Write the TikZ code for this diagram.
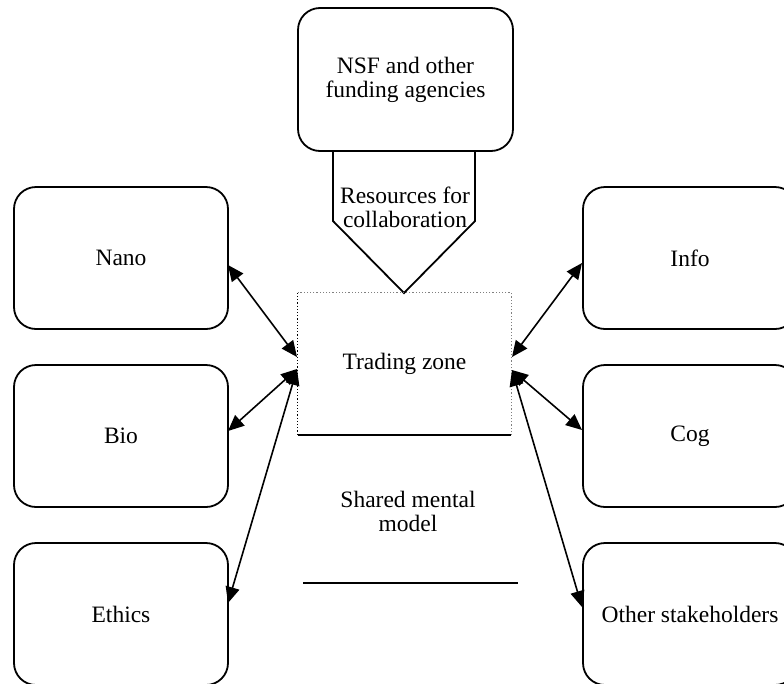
\documentclass[tikz,border=0pt]{standalone}
\usepackage{fontspec}
\setmainfont{Liberation Serif}
\usetikzlibrary{arrows.meta}
\begin{document}
\begin{tikzpicture}[x=1pt,y=-1pt,
  every node/.style={font=\fontsize{23.5}{24}\selectfont, align=center},
  rbox/.style={draw, line width=1.8pt, rounded corners=22pt, minimum width=214pt, minimum height=142pt, inner sep=0pt},
  link/.style={line width=1.6pt, {Triangle[length=16pt,width=14pt]}-{Triangle[length=16pt,width=14pt]}},
  plain/.style={inner sep=0pt}]
\useasboundingbox (0,0) rectangle (784,683);
\clip (0,0) rectangle (784,683);
% boxes
\node[rbox] (nano) at (121,258) {Nano};
\node[rbox] (bio) at (121,436) {Bio};
\node[rbox] (ethics) at (121,614) {Ethics};
\node[rbox] (info) at (690,258) {Info};
\node[rbox] (cog) at (690,436) {Cog};
\node[rbox] (other) at (690,614) {Other stakeholders};
\node[rbox, minimum width=215pt, minimum height=143pt] (nsf) at (405.5,79.5) {NSF and other\\funding agencies};
% resources arrow
\draw[line width=1.8pt, line join=miter] (333,151) -- (475,151) -- (475,221) -- (404,293) -- (333,221) -- cycle;
\node[plain] (res) at (405,207) {Resources for\\collaboration};
% trading zone
\node[plain, minimum width=213pt, minimum height=142pt] (tz) at (404.5,364) {Trading zone};
\draw[gray, dotted, line width=1.2pt] (tz.south east) -- (tz.north east) -- (tz.north west);
\draw[black, dotted, line width=1.2pt] (tz.north west) -- (tz.south west);
\draw[line width=1.8pt] (tz.south west) -- (tz.south east);
% shared mental model
\node[plain] (smm) at (408,511) {Shared mental\\model};
\coordinate (smmL) at (303,583);
\coordinate (smmR) at (518,583);
\draw[line width=1.8pt] (smmL) -- (smmR);
% connector endpoints
\coordinate (tzL1) at (297,357);
\coordinate (tzL2) at (297,369);
\coordinate (tzR1) at (512,357);
\coordinate (tzR2) at (512,370);
\coordinate (nanoE) at (228,265);
\coordinate (bioE) at (228,431);
\coordinate (ethicsE) at (228,603);
\coordinate (infoW) at (582,263);
\coordinate (cogW) at (582,430);
\coordinate (otherW) at (582,607);
\draw[link] (nanoE) -- (tzL1);
\draw[link] (bioE) -- (tzL2);
\draw[link] (ethicsE) -- (tzL2);
\draw[link] (infoW) -- (tzR1);
\draw[link] (cogW) -- (tzR2);
\draw[link] (otherW) -- (tzR2);
\end{tikzpicture}
\end{document}
